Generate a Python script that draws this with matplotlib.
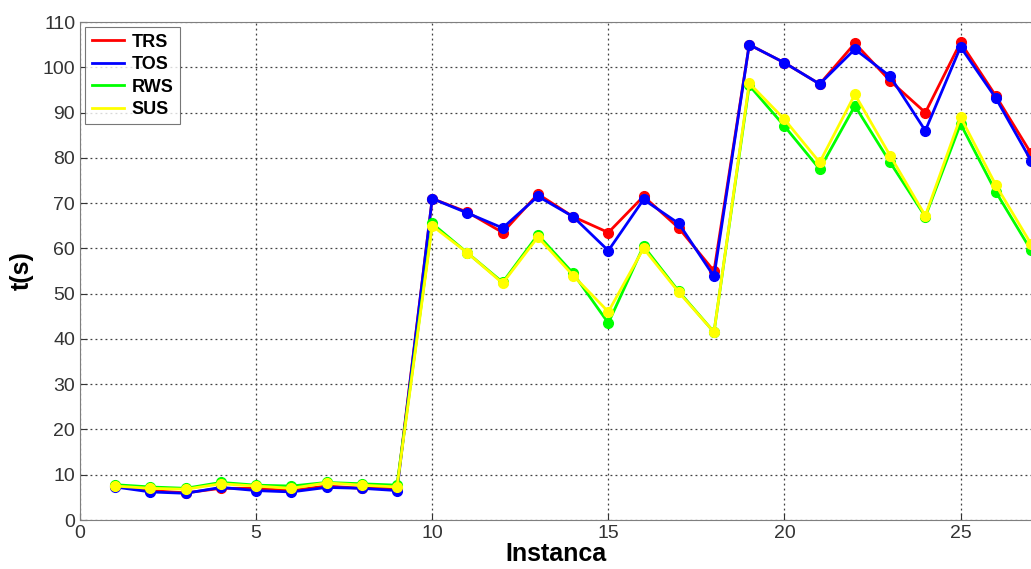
import matplotlib
matplotlib.use("Agg")
import matplotlib.pyplot as plt

plt.rcParams["font.family"] = ["Liberation Sans", "DejaVu Sans"]

instances = list(range(1, 28))

trs = [7.5, 6.5, 6.0, 7.0, 7.0, 6.5, 7.5, 7.0, 7.0,
       71.0, 68.0, 63.5, 72.0, 67.0, 63.5, 71.5, 64.5, 55.0,
       105.0, 101.0, 96.3, 105.3, 97.0, 90.0, 105.5, 93.7, 81.0]
tos = [7.3, 6.2, 5.9, 7.2, 6.5, 6.2, 7.2, 7.0, 6.5,
       71.0, 67.8, 64.5, 71.5, 67.0, 59.5, 70.8, 65.5, 53.8,
       105.0, 101.0, 96.3, 104.0, 98.0, 86.0, 104.5, 93.2, 79.4]
rws = [7.8, 7.3, 7.0, 8.3, 7.7, 7.5, 8.3, 8.0, 7.7,
       65.5, 59.0, 52.5, 63.0, 54.5, 43.5, 60.5, 50.5, 41.5,
       96.0, 87.0, 77.5, 91.5, 79.0, 67.0, 87.5, 72.5, 59.6]
sus = [7.5, 7.0, 6.8, 8.0, 7.5, 7.0, 8.2, 7.7, 7.3,
       65.0, 59.0, 52.3, 62.5, 54.0, 46.0, 60.0, 50.3, 41.5,
       96.5, 88.5, 79.0, 94.0, 80.5, 67.2, 89.0, 74.0, 61.0]

series = [("TRS", trs, "#ff0000"), ("TOS", tos, "#0000ff"),
          ("RWS", rws, "#00ff00"), ("SUS", sus, "#ffff00")]

fig = plt.figure(figsize=(10.31, 5.69), dpi=100)
ax = fig.add_axes([0.0776, 0.0861, 0.9224, 0.8752])

for name, vals, color in series:
    ax.plot(instances, vals, color=color, lw=2, marker="o", ms=7, label=name)

ax.set_xlim(0, 27)
ax.set_ylim(0, 110)
ax.set_xticks([0, 5, 10, 15, 20, 25])
ax.set_yticks(range(0, 111, 10))
ax.grid(True, color="#404040", ls=(0, (1.5, 2.5)), lw=0.9)
ax.tick_params(labelsize=14, direction="in", length=5, colors="#333333")
for side in ["left", "bottom", "top"]:
    ax.spines[side].set_color("#7f7f7f")
ax.spines["right"].set_visible(False)

ax.set_xlabel("Instanca", fontsize=18, fontweight="bold", labelpad=0)
ax.set_ylabel("t(s)", fontsize=18, fontweight="bold", labelpad=6)

leg = ax.legend(loc="upper left", prop={"weight": "bold", "size": 13},
                fancybox=False, edgecolor="#555555", handlelength=1.8,
                borderaxespad=0.3, labelspacing=0.3, handletextpad=0.4,
                borderpad=0.35)
leg.get_frame().set_linewidth(0.8)
for h in leg.legend_handles:
    h.set_marker("")

fig.savefig("out.png", dpi=100)
